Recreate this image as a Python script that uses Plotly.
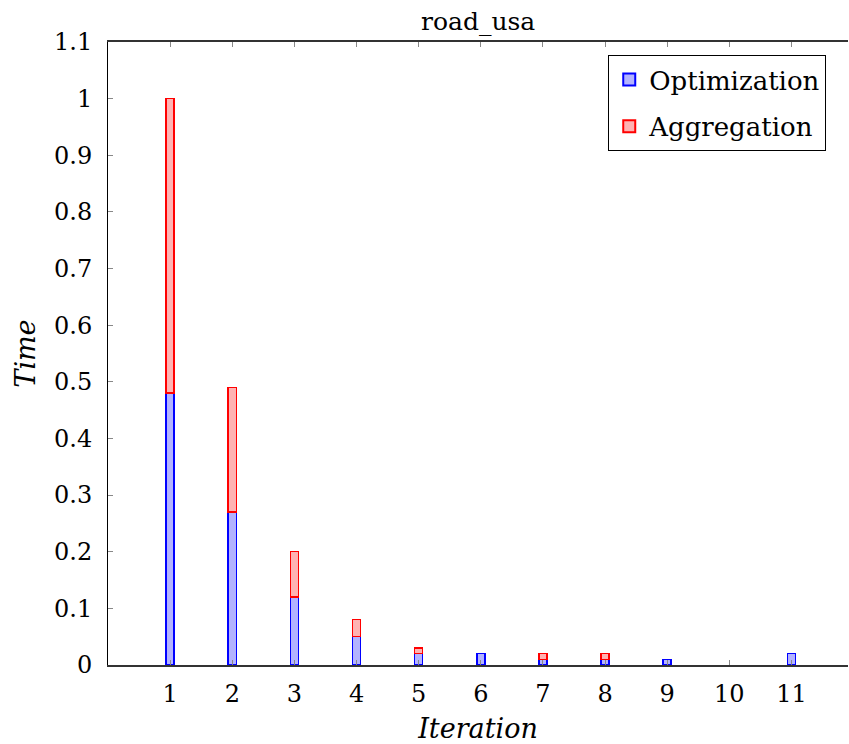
import plotly.graph_objects as go

iterations = [1, 2, 3, 4, 5, 6, 7, 8, 9, 10, 11]
optimization = [0.48, 0.27, 0.12, 0.05, 0.02, 0.02, 0.01, 0.01, 0.01, 0.0, 0.02]
aggregation = [0.52, 0.22, 0.08, 0.03, 0.01, 0.0, 0.01, 0.01, 0.0, 0.0, 0.0]
y_ticks = [0, 0.1, 0.2, 0.3, 0.4, 0.5, 0.6, 0.7, 0.8, 0.9, 1, 1.1]
y_tick_labels = ["0", "0.1", "0.2", "0.3", "0.4", "0.5", "0.6", "0.7", "0.8", "0.9", "1", "1.1"]

FONT = "DejaVu Serif"


def nz(vals):
    return [v if v != 0 else None for v in vals]


fig = go.Figure()
fig.add_trace(go.Bar(
    x=iterations, y=nz(optimization), name="Optimization", width=0.13,
    legendgroup="opt",
    marker=dict(color="#b3b3ff", line=dict(color="blue", width=1.5)),
))
fig.add_trace(go.Bar(
    x=iterations, y=nz(aggregation), name="Aggregation", width=0.13,
    legendgroup="agg",
    marker=dict(color="#ffb3b3", line=dict(color="red", width=1.5)),
))

fig.update_layout(
    width=849, height=744,
    barmode="stack",
    plot_bgcolor="white", paper_bgcolor="white",
    margin=dict(l=108, r=1, t=42, b=79, autoexpand=False),
    font=dict(family=FONT, size=22, color="black"),
    title=dict(text="road_usa", x=0.5632, xanchor="center", y=0.972, yanchor="middle",
               font=dict(family=FONT, size=25, color="black")),
    legend=dict(x=0.676, y=0.979, xanchor="left", yanchor="top",
                bordercolor="black", borderwidth=1, bgcolor="white",
                font=dict(family=FONT, size=26, color="black"), traceorder="grouped",
                itemsizing="constant", tracegroupgap=10),
    showlegend=True,
)
fig.update_xaxes(
    range=[0, 11.91], tickvals=iterations, ticktext=[str(i) for i in iterations],
    ticks="inside", ticklen=5, tickcolor="#888", showgrid=False, zeroline=False,
    showline=True, linecolor="#333", linewidth=2, mirror="ticks", automargin=False,
    ticklabelstandoff=6,
    title=dict(text="<i>Iteration</i>", font=dict(family=FONT, size=27, color="black"), standoff=18),
    tickfont=dict(family=FONT, size=24, color="black"),
)
fig.update_yaxes(
    range=[0, 1.1], tickvals=y_ticks, ticktext=y_tick_labels,
    ticks="inside", ticklen=5, tickcolor="#888", showgrid=False, zeroline=False,
    showline=True, linecolor="black", linewidth=1, mirror=False, automargin=False,
    ticklabelstandoff=10,
    title=dict(text="<i>Time</i>", font=dict(family=FONT, size=27, color="black"), standoff=10),
    tickfont=dict(family=FONT, size=24, color="black"),
)
fig.write_html("out.html")
